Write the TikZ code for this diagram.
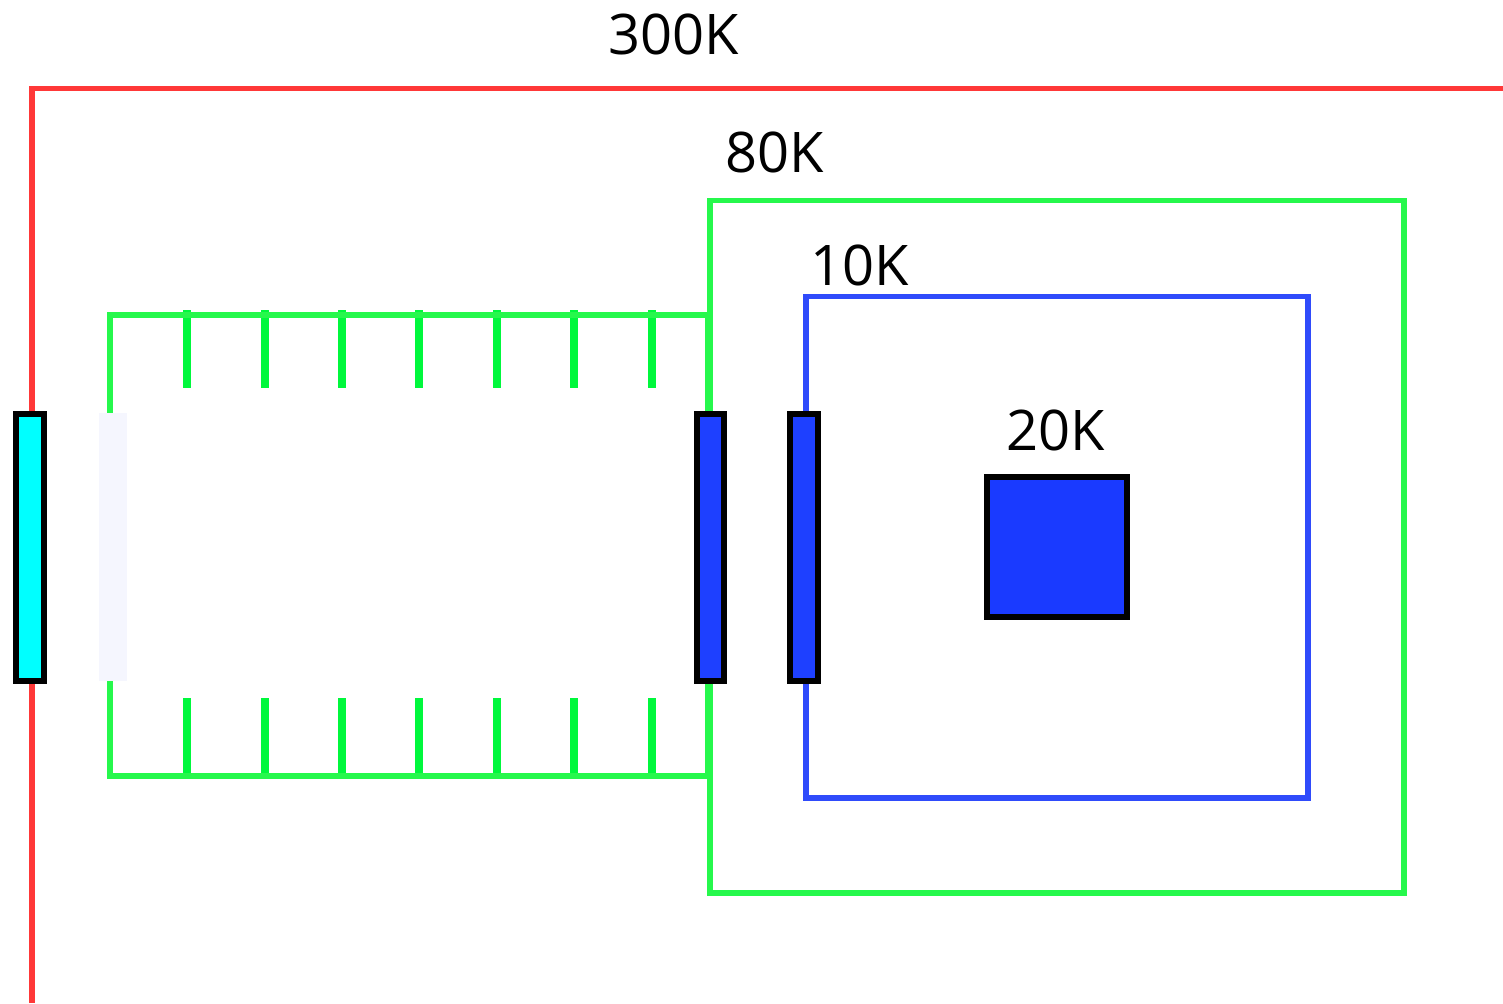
\documentclass[tikz,border=0pt]{standalone}
\usepackage{fontspec}
\setmainfont{Open Sans}
\tikzset{
  wire/.style={line width=5.5pt, line join=miter, line cap=butt},
  fin/.style={line width=8pt, draw=finG},
  win/.style={line width=6pt, draw=black, outer sep=0pt, inner sep=0pt, anchor=north west},
  lab/.style={anchor=base, inner sep=0pt, font=\fontsize{56}{56}\selectfont, text=black},
}
\definecolor{redW}{HTML}{FF3838}
\definecolor{greenW}{HTML}{26F84C}
\definecolor{finG}{HTML}{00F83C}
\definecolor{blueW}{HTML}{2F4BFB}
\definecolor{blueF}{HTML}{1E40FF}
\definecolor{detF}{HTML}{1A3AFF}
\definecolor{cyanF}{HTML}{00FFFF}
\definecolor{paleF}{HTML}{F5F6FE}
\begin{document}
\begin{tikzpicture}[x=1pt,y=-1pt]
\useasboundingbox (0,0) rectangle (1503,1003);
% outer 300K shield
\draw[wire,redW] (1503,88.5) -- (32,88.5) -- (32,1003);
% snorkel
\foreach \x in {187,264.5,342,419,496.5,574,651.5}{
  \draw[fin] (\x,310) -- (\x,388);
  \draw[fin] (\x,698) -- (\x,776);
}
\draw[wire,greenW] (708,413) -- (708,315) -- (110,315) -- (110,413);
\draw[wire,greenW] (708,680) -- (708,776) -- (110,776) -- (110,680);
% 80K and 10K shields
\draw[wire,greenW] (710,200.5) rectangle (1404,893);
\draw[wire,blueW] (806,296.5) rectangle (1308,798);
% windows
\node[fill=paleF, minimum width=28pt, minimum height=268pt, inner sep=0pt, outer sep=0pt, anchor=north west] (pale) at (99,413) {};
\node[win, fill=cyanF, minimum width=27.5pt, minimum height=267pt] (w300) at (16,413.5) {};
\node[win, fill=blueF, minimum width=27.5pt, minimum height=267pt] (w80) at (696.5,413.5) {};
\node[win, fill=blueF, minimum width=27.5pt, minimum height=267pt] (w10) at (790,413.5) {};
% detector
\node[win, fill=detF, minimum width=140pt, minimum height=140pt] (det) at (987,477) {};
% labels
\node[lab] (l300) at (673.5,55) {300K};
\node[lab] (l80) at (775,173) {80K};
\node[lab] (l10) at (860,285) {10K};
\node[lab] (l20) at (1055.5,450) {20K};
\end{tikzpicture}
\end{document}
